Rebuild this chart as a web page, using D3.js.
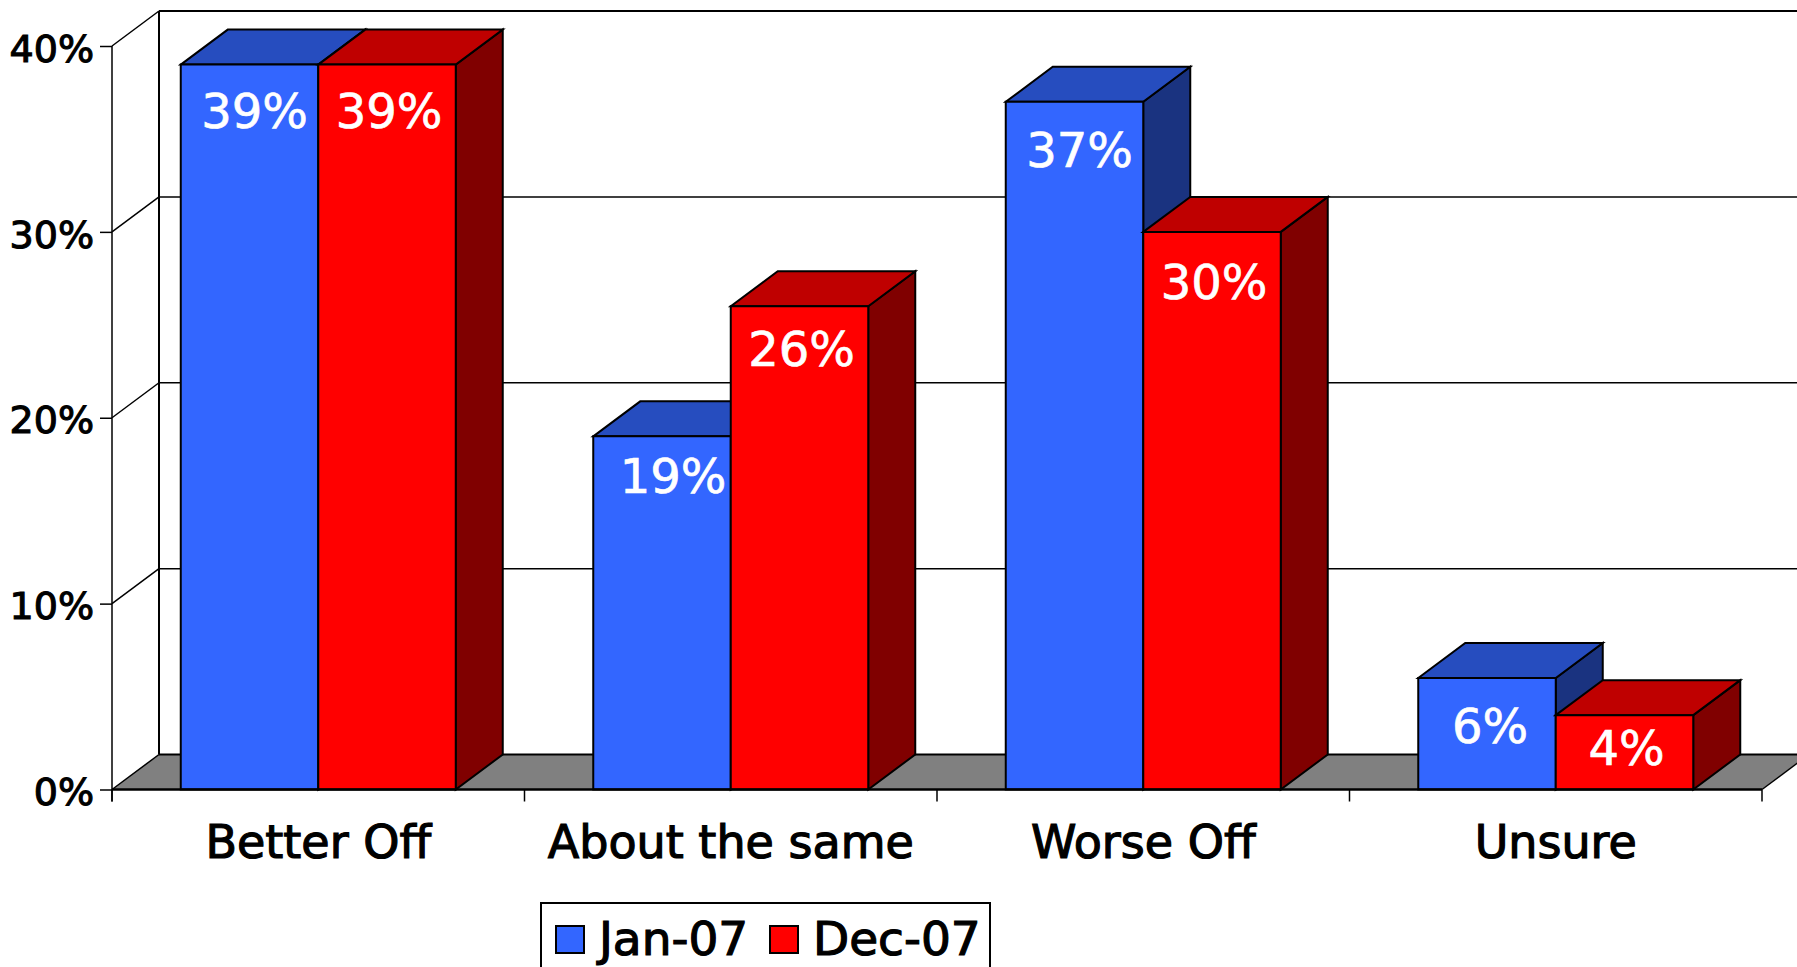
<!DOCTYPE html>
<html>
<head>
<meta charset="utf-8">
<script src="https://cdn.jsdelivr.net/npm/d3@7"></script>
<style>
  html, body { margin: 0; padding: 0; background: #fff; overflow: hidden; }
  svg { display: block; }
  text { font-family: "DejaVu Sans", sans-serif; }
</style>
</head>
<body>
<script>
const categories = ["Better Off", "About the same", "Worse Off", "Unsure"]
const seriesNames = ["Jan-07", "Dec-07"]
const jan07 = [39, 19, 37, 6]
const dec07 = [39, 26, 30, 4]
const yTicks = [0, 10, 20, 30, 40]

const width = 1797, height = 967
const depthX = 47, depthY = 35
const colors = [
  { front: "#3366ff", top: "#264dbf", side: "#1a3380" },
  { front: "#ff0000", top: "#bf0000", side: "#800000" }
]
// hand tweaks for the value labels, same order as the bars are drawn
const labelNudge = [[3, 0], [0, 0], [9, -6], [0, -3], [3, 2], [0, 4], [1, 2], [0, -5]]

const svg = d3.select("body").append("svg")
  .attr("width", width)
  .attr("height", height)

const y = d3.scaleLinear().domain([0, 40]).range([789.5, 46])
const x = d3.scaleBand().domain(categories).range([112, 1762])
const inner = d3.scaleBand().domain([0, 1]).range([0, x.bandwidth()]).paddingInner(0).paddingOuter(0.5)

const line = (x1, y1, x2, y2, w) => svg.append("line")
  .attr("x1", x1).attr("y1", y1).attr("x2", x2).attr("y2", y2)
  .attr("stroke", "#000").attr("stroke-width", w)

// floor
const x0 = x.range()[0], x1 = x.range()[1], y0 = y(0)
svg.append("path")
  .attr("d", d3.line()([[x0, y0], [x0 + depthX, y0 - depthY], [width + 60, y0 - depthY], [x1 + depthX, y0 - depthY], [x1, y0]]) + "Z")
  .attr("fill", "#808080")

// back wall + side wall grid
yTicks.forEach(t => {
  line(x0, y(t), x0 + depthX, y(t) - depthY, 1.5)
  line(x0 + depthX, y(t) - depthY, width, y(t) - depthY, t === 0 || t === 40 ? 2 : 1.5)
})
line(x0 + depthX, y(40) - depthY, x0 + depthX, y(0) - depthY, 2)
line(x1, y0, x1 + depthX, y0 - depthY, 1.5)

// bars
const rows = categories.flatMap((c, i) => [
  { cat: c, s: 0, v: jan07[i] },
  { cat: c, s: 1, v: dec07[i] }
])
const bars = svg.selectAll("g.bar").data(rows).enter().append("g").attr("class", "bar")

const poly = pts => d3.line()(pts) + "Z"
const left = d => x(d.cat) + inner(d.s)
const right = d => left(d) + inner.bandwidth()

bars.append("path")
  .attr("fill", d => colors[d.s].side)
  .attr("d", d => poly([[right(d), y(d.v)], [right(d) + depthX, y(d.v) - depthY], [right(d) + depthX, y0 - depthY], [right(d), y0]]))
bars.append("path")
  .attr("fill", d => colors[d.s].top)
  .attr("d", d => poly([[left(d), y(d.v)], [left(d) + depthX, y(d.v) - depthY], [right(d) + depthX, y(d.v) - depthY], [right(d), y(d.v)]]))
bars.append("path")
  .attr("fill", d => colors[d.s].front)
  .attr("d", d => poly([[left(d), y(d.v)], [right(d), y(d.v)], [right(d), y0], [left(d), y0]]))
bars.selectAll("path")
  .attr("stroke", "#000")
  .attr("stroke-width", 2)
  .attr("stroke-linejoin", "miter")

bars.append("text")
  .attr("x", (d, i) => (left(d) + right(d)) / 2 + 2 + labelNudge[i][0])
  .attr("y", (d, i) => y(d.v) + Math.min(45, (y0 - y(d.v)) / 2) + 18 + labelNudge[i][1])
  .attr("text-anchor", "middle")
  .attr("font-size", 48)
  .attr("fill", "#fff")
  .attr("stroke", "#fff")
  .attr("stroke-width", 0.7)
  .text(d => d.v + "%")

// y axis
const yAxis = svg.append("g")
  .attr("transform", `translate(${x0},0)`)
  .call(d3.axisLeft(y).tickValues(yTicks).tickSize(12).tickPadding(6).tickFormat(d => d + "%"))
yAxis.select(".domain").attr("d", `M0,${y(40)}V${y0 + 12}`).attr("stroke-width", 1.5)
yAxis.selectAll("line").attr("stroke-width", 1.5)
yAxis.selectAll("text")
  .attr("dy", "0.4em")
  .attr("font-family", "DejaVu Sans")
  .attr("font-size", 38)
  .attr("stroke", "#000")
  .attr("stroke-width", 1.1)

// x axis, ticks sit between the categories
line(x0, y0, x1, y0, 2.5)
const edges = categories.map(c => x(c)).concat([x1])
edges.forEach(e => line(e, y0, e, y0 + 12, 1.5))

const xAxis = svg.append("g")
  .attr("transform", `translate(0,${y0})`)
  .call(d3.axisBottom(x).tickSize(0).tickPadding(36))
xAxis.select(".domain").remove()
xAxis.selectAll("text")
  .attr("font-family", "DejaVu Sans")
  .attr("font-size", 46)
  .attr("stroke", "#000")
  .attr("stroke-width", 1.2)

// legend
svg.append("rect")
  .attr("x", 541).attr("y", 903).attr("width", 449).attr("height", 100)
  .attr("fill", "#fff").attr("stroke", "#000").attr("stroke-width", 2)
const legendX = d3.scaleOrdinal().domain(seriesNames).range([556, 770])
const legend = svg.selectAll("g.legend").data(seriesNames).enter().append("g").attr("class", "legend")
legend.append("rect")
  .attr("x", d => legendX(d)).attr("y", 926)
  .attr("width", 28).attr("height", 27)
  .attr("fill", (d, i) => colors[i].front)
  .attr("stroke", "#000").attr("stroke-width", 2)
legend.append("text")
  .attr("x", d => legendX(d) + 43).attr("y", 955)
  .attr("font-size", 47)
  .attr("stroke", "#000").attr("stroke-width", 1.2)
  .text(d => d)
</script>
</body>
</html>
